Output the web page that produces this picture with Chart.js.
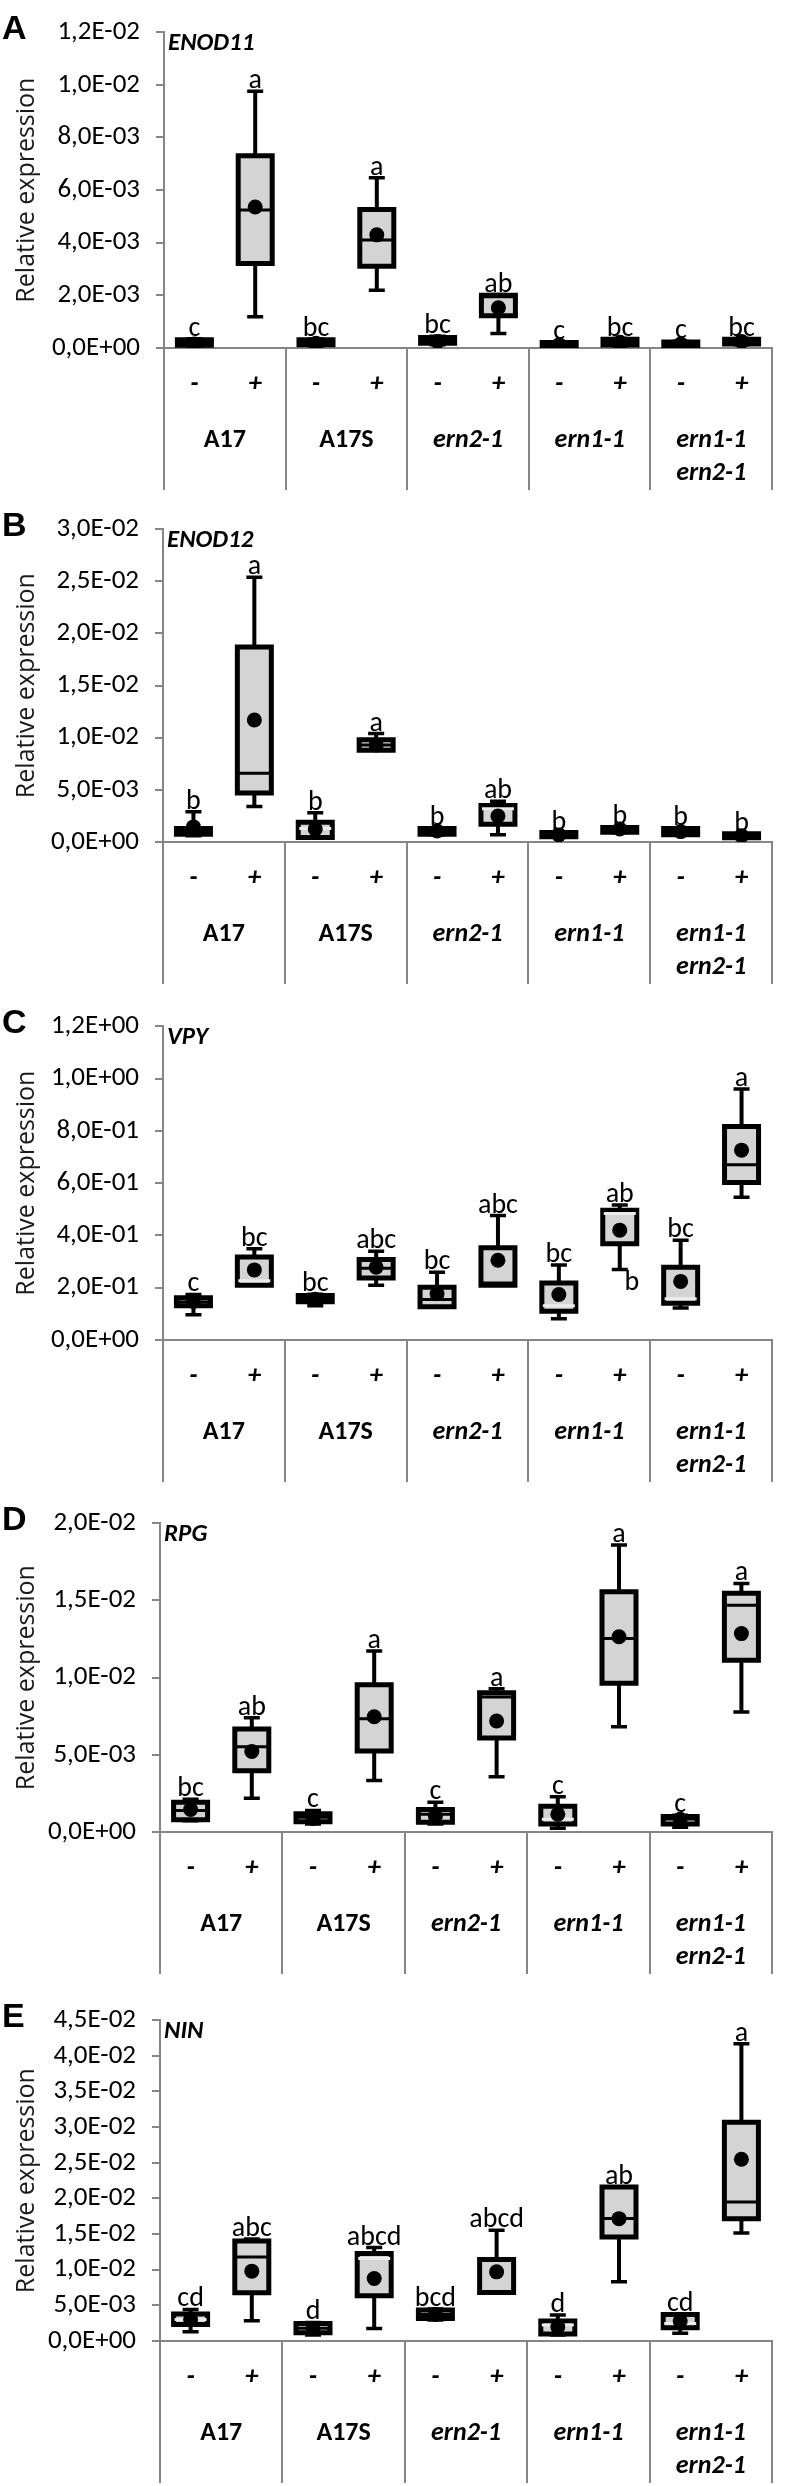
<!DOCTYPE html>
<html>
<head>
<meta charset="utf-8">
<script src="https://cdn.jsdelivr.net/npm/chart.js@4.4.1/dist/chart.umd.min.js"></script>
<style>
html,body{margin:0;padding:0;background:#fff;overflow:hidden;}
#wrap{position:relative;width:791px;height:2486px;}
</style>
</head>
<body>
<div id="wrap"></div>
<script>
// ---------- data ----------
const categories = ['-', '+', '-', '+', '-', '+', '-', '+', '-', '+'];
const groupNames = [['A17'], ['A17S'], ['ern2-1'], ['ern1-1'], ['ern1-1', 'ern2-1']];
const yTitle = 'Relative expression';

// Panel A : ENOD11
const enod11Min    = [0.00005, 0.00119, 0.00008, 0.00219, 0.00012, 0.00055, 0.00003, 0.00008, 0.00005, 0.00012];
const enod11Q1     = [0.00010, 0.00321, 0.00012, 0.00311, 0.00018, 0.00123, 0.00006, 0.00011, 0.00009, 0.00015];
const enod11Median = [0.00020, 0.00524, 0.00020, 0.00410, 0.00028, 0.00195, 0.00012, 0.00022, 0.00016, 0.00025];
const enod11Q3     = [0.00031, 0.00731, 0.00031, 0.00526, 0.00040, 0.00200, 0.00021, 0.00033, 0.00023, 0.00033];
const enod11Max    = [0.00035, 0.00976, 0.00034, 0.00647, 0.00045, 0.00203, 0.00024, 0.00036, 0.00026, 0.00036];
const enod11Mean   = [0.00015, 0.00536, 0.00018, 0.00430, 0.00025, 0.00153, 0.00012, 0.00022, 0.00015, 0.00025];
const enod11Letters = ['c', 'a', 'bc', 'a', 'bc', 'ab', 'c', 'bc', 'c', 'bc'];
const enod11Ticks = [0, 0.002, 0.004, 0.006, 0.008, 0.010, 0.012];
const enod11TickLabels = ['0,0E+00', '2,0E-03', '4,0E-03', '6,0E-03', '8,0E-03', '1,0E-02', '1,2E-02'];

// Panel B : ENOD12
const enod12Min    = [0.0006, 0.0034, 0.0004, 0.0088, 0.0007, 0.0007, 0.0005, 0.0009, 0.0007, 0.0004];
const enod12Q1     = [0.00075, 0.0047, 0.00043, 0.0088, 0.00075, 0.0017, 0.0005, 0.00093, 0.0007, 0.0004];
const enod12Median = [0.0010, 0.0066, 0.0013, 0.0093, 0.0010, 0.0032, 0.0007, 0.0011, 0.0010, 0.0006];
const enod12Q3     = [0.0013, 0.0187, 0.0019, 0.0098, 0.0013, 0.0035, 0.0009, 0.0014, 0.0013, 0.0008];
const enod12Max    = [0.0029, 0.0254, 0.0028, 0.0104, 0.0013, 0.0039, 0.0009, 0.0014, 0.0013, 0.0008];
const enod12Mean   = [0.00145, 0.0117, 0.00124, 0.0093, 0.00105, 0.0025, 0.00068, 0.00124, 0.0010, 0.0006];
const enod12Letters = ['b', 'a', 'b', 'a', 'b', 'ab', 'b', 'b', 'b', 'b'];
const enod12Ticks = [0, 0.005, 0.010, 0.015, 0.020, 0.025, 0.030];
const enod12TickLabels = ['0,0E+00', '5,0E-03', '1,0E-02', '1,5E-02', '2,0E-02', '2,5E-02', '3,0E-02'];

// Panel C : VPY
const vpyMin    = [0.097, 0.209, 0.131, 0.209, 0.125, 0.209, 0.081, 0.270, 0.122, 0.546];
const vpyQ1     = [0.131, 0.209, 0.146, 0.237, 0.127, 0.209, 0.110, 0.368, 0.141, 0.602];
const vpyMedian = [0.145, 0.227, 0.156, 0.274, 0.155, 0.218, 0.131, 0.484, 0.158, 0.670];
const vpyQ3     = [0.162, 0.317, 0.170, 0.308, 0.202, 0.353, 0.218, 0.496, 0.278, 0.816];
const vpyMax    = [0.174, 0.349, 0.175, 0.339, 0.259, 0.476, 0.287, 0.516, 0.381, 0.960];
const vpyMean   = [0.147, 0.268, 0.156, 0.278, 0.177, 0.305, 0.174, 0.420, 0.224, 0.726];
const vpyLetters = ['c', 'bc', 'bc', 'abc', 'bc', 'abc', 'bc', 'ab', 'bc', 'a'];
const vpyExtraLetter = {index: 7, value: 0.19, text: 'b'};
const vpyTicks = [0, 0.2, 0.4, 0.6, 0.8, 1.0, 1.2];
const vpyTickLabels = ['0,0E+00', '2,0E-01', '4,0E-01', '6,0E-01', '8,0E-01', '1,0E+00', '1,2E+00'];

// Panel D : RPG
const rpgMin    = [0.00073, 0.00219, 0.00052, 0.00333, 0.00052, 0.00358, 0.00025, 0.00681, 0.00031, 0.00777];
const rpgQ1     = [0.00079, 0.00396, 0.00067, 0.00525, 0.00063, 0.00608, 0.00052, 0.00963, 0.00052, 0.01113];
const rpgMedian = [0.00140, 0.00552, 0.00095, 0.00733, 0.00115, 0.00875, 0.00083, 0.01254, 0.00085, 0.01469];
const rpgQ3     = [0.00192, 0.00667, 0.00119, 0.00954, 0.00146, 0.00902, 0.00167, 0.01556, 0.00100, 0.01546];
const rpgMax    = [0.00212, 0.00740, 0.00140, 0.01173, 0.00192, 0.00927, 0.00229, 0.01858, 0.00108, 0.01610];
const rpgMean   = [0.00146, 0.00521, 0.00088, 0.00746, 0.00104, 0.00719, 0.00115, 0.01265, 0.00083, 0.01285];
const rpgLetters = ['bc', 'ab', 'c', 'a', 'c', 'a', 'c', 'a', 'c', 'a'];
const rpgTicks = [0, 0.005, 0.010, 0.015, 0.020];
const rpgTickLabels = ['0,0E+00', '5,0E-03', '1,0E-02', '1,5E-02', '2,0E-02'];

// Panel E : NIN
const ninMin    = [0.00131, 0.00285, 0.00084, 0.00177, 0.00294, 0.00681, 0.00084, 0.00830, 0.00107, 0.01516];
const ninQ1     = [0.00233, 0.00676, 0.00117, 0.00634, 0.00317, 0.00681, 0.00098, 0.01460, 0.00187, 0.01716];
const ninMedian = [0.00303, 0.01180, 0.00180, 0.01157, 0.00370, 0.00690, 0.00224, 0.01720, 0.00247, 0.01950];
const ninQ3     = [0.00378, 0.01404, 0.00247, 0.01227, 0.00434, 0.01143, 0.00280, 0.02160, 0.00373, 0.03070];
const ninMax    = [0.00443, 0.01430, 0.00260, 0.01310, 0.00448, 0.01553, 0.00364, 0.02160, 0.00373, 0.04170];
const ninMean   = [0.00303, 0.00980, 0.00177, 0.00877, 0.00373, 0.00970, 0.00200, 0.01716, 0.00280, 0.02550];
const ninLetters = ['cd', 'abc', 'd', 'abcd', 'bcd', 'abcd', 'd', 'ab', 'cd', 'a'];
const ninTicks = [0, 0.005, 0.010, 0.015, 0.020, 0.025, 0.030, 0.035, 0.040, 0.045];
const ninTickLabels = ['0,0E+00', '5,0E-03', '1,0E-02', '1,5E-02', '2,0E-02', '2,5E-02', '3,0E-02', '3,5E-02', '4,0E-02', '4,5E-02'];

// ---------- layout / style (kept apart from the data) ----------
const GRAY = '#868686';
const BOX_FILL = '#d4d4d4';
const FONT = "Carlito, Lato, 'Liberation Sans', sans-serif";
const groupItalic = [false, false, true, true, true];

const panels = [
  {tag: 'A', gene: 'ENOD11', top: 0,    height: 497, plotTop: 26, zero: 348, left: 164, right: 788,
   min: enod11Min, q1: enod11Q1, median: enod11Median, q3: enod11Q3, max: enod11Max, mean: enod11Mean,
   letters: enod11Letters, ticks: enod11Ticks, tickLabels: enod11TickLabels, light: []},
  {tag: 'B', gene: 'ENOD12', top: 497,  height: 497, plotTop: 24, zero: 345, left: 163, right: 787,
   min: enod12Min, q1: enod12Q1, median: enod12Median, q3: enod12Q3, max: enod12Max, mean: enod12Mean,
   letters: enod12Letters, ticks: enod12Ticks, tickLabels: enod12TickLabels, light: [2, 5]},
  {tag: 'C', gene: 'VPY',    top: 994,  height: 497, plotTop: 25, zero: 346, left: 163, right: 784,
   min: vpyMin, q1: vpyQ1, median: vpyMedian, q3: vpyQ3, max: vpyMax, mean: vpyMean,
   letters: vpyLetters, ticks: vpyTicks, tickLabels: vpyTickLabels, light: [1, 6, 7, 8], extra: vpyExtraLetter},
  {tag: 'D', gene: 'RPG',    top: 1491, height: 497, plotTop: 20, zero: 341, left: 160, right: 776,
   min: rpgMin, q1: rpgQ1, median: rpgMedian, q3: rpgQ3, max: rpgMax, mean: rpgMean,
   letters: rpgLetters, ticks: rpgTicks, tickLabels: rpgTickLabels, light: [6]},
  {tag: 'E', gene: 'NIN',    top: 1988, height: 498, plotTop: 32, zero: 353, left: 160, right: 776,
   min: ninMin, q1: ninQ1, median: ninMedian, q3: ninQ3, max: ninMax, mean: ninMean,
   letters: ninLetters, ticks: ninTicks, tickLabels: ninTickLabels, light: [0, 3, 6, 8]}
];

const annotPlugin = {
  id: 'annot',
  afterDraw(chart, args, opts) {
    const p = opts.panel;
    const ctx = chart.ctx;
    const xs = chart.scales.x, ys = chart.scales.y;
    const area = chart.chartArea;
    ctx.save();
    // significance letters
    ctx.fillStyle = '#000';
    ctx.textAlign = 'center';
    ctx.textBaseline = 'alphabetic';
    ctx.font = `28px ${FONT}`;
    p.letters.forEach((t, i) => {
      const x = xs.getPixelForValue(i);
      const y = ys.getPixelForValue(p.max[i]) - 3;
      ctx.fillText(t, x, y);
    });
    if (p.extra) {
      const e = p.extra;
      ctx.fillText(e.text, xs.getPixelForValue(e.index) + 12, ys.getPixelForValue(e.value));
    }
    // separators and group labels
    const step = xs.getPixelForValue(1) - xs.getPixelForValue(0);
    const bottomY = Math.min(area.bottom + 142, chart.height);
    ctx.strokeStyle = GRAY;
    ctx.lineWidth = 2;
    for (let g = 0; g <= groupNames.length; g++) {
      const bx = Math.round(xs.getPixelForValue(g * 2) - step / 2);
      ctx.beginPath();
      ctx.moveTo(bx, area.bottom);
      ctx.lineTo(bx, bottomY);
      ctx.stroke();
    }
    ctx.textBaseline = 'middle';
    groupNames.forEach((lines, g) => {
      const cx = (xs.getPixelForValue(g * 2) + xs.getPixelForValue(g * 2 + 1)) / 2;
      ctx.font = `${groupItalic[g] ? 'italic ' : ''}bold 26px ${FONT}`;
      lines.forEach((ln, k) => ctx.fillText(ln, cx, area.bottom + 92 + k * 33));
    });
    // gene name
    ctx.textAlign = 'left';
    ctx.textBaseline = 'alphabetic';
    ctx.font = `italic bold 25px ${FONT}`;
    ctx.fillText(p.gene, area.left + 4, area.top + 18);
    // panel letter
    ctx.font = `bold 34px 'Liberation Sans', Arial, sans-serif`;
    ctx.fillText(p.tag, 2, area.top + 7);
    ctx.restore();
  }
};

const wrap = document.getElementById('wrap');

panels.forEach(p => {
  const canvas = document.createElement('canvas');
  canvas.width = 791;
  canvas.height = p.height;
  canvas.style.cssText = `position:absolute;left:0;top:${p.top}px;width:791px;height:${p.height}px;`;
  wrap.appendChild(canvas);

  const boxData = p.q1.map((v, i) => [v, p.q3[i]]);
  const whiskerData = p.min.map((v, i) => [v, p.max[i]]);

  new Chart(canvas, {
    type: 'bar',
    data: {
      labels: categories,
      datasets: [
        {type: 'bar', data: whiskerData, backgroundColor: '#000', borderWidth: 0,
         barThickness: 4, grouped: false, inflateAmount: 0, order: 6},
        {type: 'line', data: p.max, showLine: false, pointStyle: 'line', pointRadius: 8,
         pointBorderWidth: 3.5, pointBorderColor: '#000', order: 5},
        {type: 'line', data: p.min, showLine: false, pointStyle: 'line', pointRadius: 8,
         pointBorderWidth: 3.5, pointBorderColor: '#000', order: 5},
        {type: 'bar', data: boxData, backgroundColor: '#000', borderWidth: 0,
         barThickness: 34, grouped: false, inflateAmount: 2.5, order: 4},
        {type: 'bar', data: boxData, backgroundColor: BOX_FILL, borderColor: '#000', borderWidth: 2.5,
         borderSkipped: false, barThickness: 34, grouped: false, inflateAmount: 0, order: 3},
        {type: 'line', data: p.median, showLine: false, pointStyle: 'line', pointRadius: 16,
         pointBorderWidth: 3,
         pointBorderColor: ctx => p.light.includes(ctx.dataIndex) ? '#ececec' : '#000', order: 2},
        {type: 'line', data: p.mean, showLine: false, pointStyle: 'circle', pointRadius: 7.5,
         pointBackgroundColor: '#000', pointBorderWidth: 0, order: 1}
      ]
    },
    options: {
      responsive: false,
      animation: false,
      devicePixelRatio: 1,
      events: [],
      layout: {padding: {top: p.plotTop, right: 791 - p.right, left: 0, bottom: 0}},
      plugins: {legend: {display: false}, tooltip: {enabled: false}, annot: {panel: p}},
      scales: {
        x: {
          type: 'category',
          offset: true,
          grid: {display: false, drawTicks: false},
          border: {display: true, color: GRAY, width: 2},
          ticks: {color: '#000', autoSkip: false, maxRotation: 0, padding: 20,
                  font: {family: FONT, size: 27, weight: 'bold', style: 'italic'}},
          afterFit: s => { s.height = p.height - p.zero; }
        },
        y: {
          min: 0,
          max: p.ticks[p.ticks.length - 1],
          afterBuildTicks: s => { s.ticks = p.ticks.map(v => ({value: v})); },
          grid: {drawOnChartArea: false, drawTicks: true, tickLength: 8, color: GRAY, lineWidth: 2},
          border: {display: true, color: GRAY, width: 2},
          ticks: {color: '#000', padding: 16, font: {family: FONT, size: 27},
                  callback: (v, i) => p.tickLabels[i]},
          title: {display: true, text: yTitle, color: '#1a1a1a',
                  font: {family: "'Open Sans', 'DejaVu Sans', sans-serif", size: 25},
                  padding: {top: 12, bottom: 0}},
          afterFit: s => { s.width = p.left; }
        }
      }
    },
    plugins: [annotPlugin]
  });
});
</script>
</body>
</html>
